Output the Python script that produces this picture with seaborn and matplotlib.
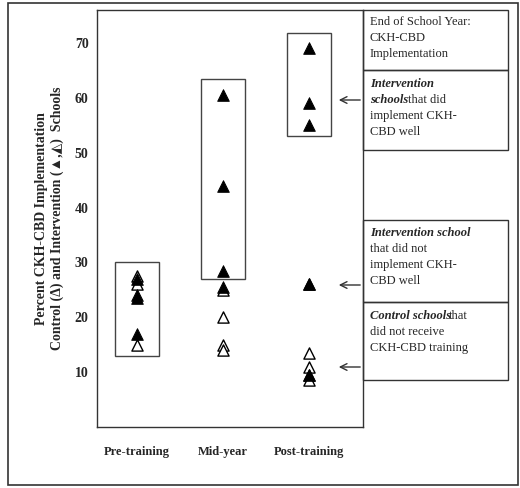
import matplotlib
matplotlib.use("Agg")
import matplotlib.pyplot as plt
import seaborn as sns
import pandas as pd
from matplotlib.patches import Rectangle, FancyArrowPatch

categories = ["Pre-training", "Mid-year", "Post-training"]
filled_x = [0, 0, 0, 0, 1, 1, 1, 1, 2, 2, 2, 2, 2]
filled_y = [27, 24, 23.5, 17, 60.5, 44, 28.5, 25.5, 69, 59, 55, 26, 9.5]
open_x = [0, 0, 0, 1, 1, 1, 1, 2, 2, 2, 2, 2]
open_y = [27.5, 26, 15, 25, 20, 15, 14, 26, 13.5, 11, 9.5, 8.5]
yticks = [10, 20, 30, 40, 50, 60, 70]
boxes = [(0, 13, 30), (1, 27, 63.5), (2, 53, 71.8)]

sns.set_theme(style="white")
plt.rcParams['font.family'] = ['Liberation Serif', 'DejaVu Sans']

fig = plt.figure(figsize=(5.2, 4.88), dpi=100)
ax = fig.add_axes([97/520, 61/488, 266/520, 417/488])

fd = pd.DataFrame({"x": filled_x, "y": filled_y})
od = pd.DataFrame({"x": open_x, "y": open_y})
sns.scatterplot(data=od, x="x", y="y", marker="^", s=65, facecolor="white",
                edgecolor="black", linewidth=1.0, ax=ax, zorder=3)
sns.scatterplot(data=fd, x="x", y="y", marker="^", s=70, color="black",
                edgecolor="black", ax=ax, zorder=4)

for cx, lo, hi in boxes:
    ax.add_patch(Rectangle((cx - 0.26, lo), 0.52, hi - lo, fill=False,
                           edgecolor="#444444", linewidth=1.0, zorder=2))

ax.set_xlim(-0.465, 2.63)
ax.set_ylim(0, 76)
ax.set_yticks(yticks)
ax.set_yticklabels([str(t) for t in yticks], fontsize=10, fontweight="bold")
ax.set_xticks([0, 1, 2])
ax.set_xticklabels(categories, fontsize=9, fontweight="bold")
ax.tick_params(axis="x", length=0, pad=14)
ax.tick_params(axis="y", length=0, pad=6)
ax.set_xlabel("")
ax.set_ylabel("Percent CKH-CBD Implementation\nControl (Δ) and Intervention (▲,◭)  Schools",
              fontsize=10, fontweight="bold", labelpad=8)
for s in ax.spines.values():
    s.set_color("#333333"); s.set_linewidth(1.0)

W, H = 520, 488
def frect(x0, y0, x1, y1, lw=1.0):
    fig.patches.append(Rectangle((x0/W, 1 - y1/H), (x1-x0)/W, (y1-y0)/H, fill=False,
                                 edgecolor="#333333", linewidth=lw, transform=fig.transFigure))
frect(8, 3, 518, 485, 1.2)
frect(363, 10, 508, 70)
frect(363, 70, 508, 150)
frect(363, 220, 508, 302)
frect(363, 302, 508, 380)

def t(x, y, s, **kw):
    fig.text(x/W, 1 - y/H, s, fontsize=9, va="center", ha="left", **kw)

t(370, 22, "End of School Year:")
t(370, 38, "CKH-CBD")
t(370, 54, "Implementation")
t(370, 84, "Intervention", fontweight="bold", fontstyle="italic")
t(370, 100, "schools", fontweight="bold", fontstyle="italic")
t(408, 100, "that did")
t(370, 116, "implement CKH-")
t(370, 132, "CBD well")
t(370, 233, "Intervention school", fontweight="bold", fontstyle="italic")
t(370, 249, "that did not")
t(370, 265, "implement CKH-")
t(370, 281, "CBD well")
t(370, 316, "Control schools", fontweight="bold", fontstyle="italic")
t(449, 316, "that")
t(370, 332, "did not receive")
t(370, 348, "CKH-CBD training")

for yy in [100, 285, 367]:
    fig.patches.append(FancyArrowPatch((363/W, 1 - yy/H), (336/W, 1 - yy/H),
                                       transform=fig.transFigure, arrowstyle="->",
                                       mutation_scale=12, color="#333333", linewidth=1.0))

fig.savefig("out.png", dpi=100)
